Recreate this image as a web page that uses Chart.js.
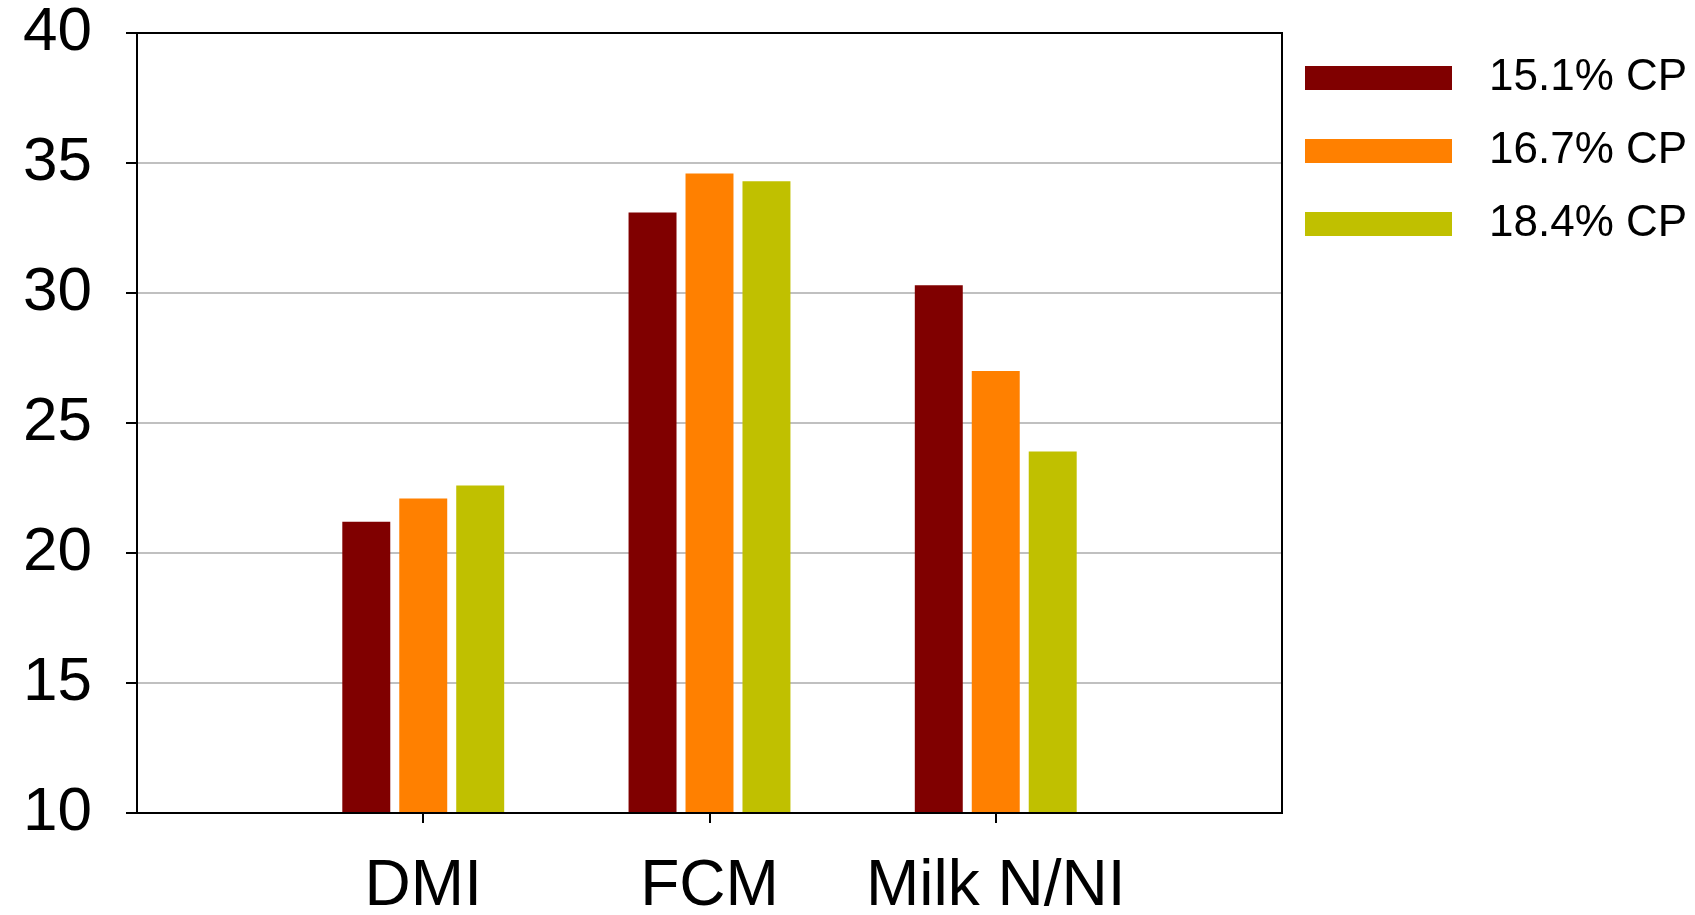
<!DOCTYPE html>
<html>
<head>
<meta charset="utf-8">
<script src="https://cdn.jsdelivr.net/npm/chart.js@4/dist/chart.umd.min.js"></script>
<style>
  html, body { margin: 0; padding: 0; background: #fff; }
  canvas { display: block; }
</style>
</head>
<body>
<canvas id="chart" width="1695" height="915"></canvas>
<script>
// Measures compared across dietary crude protein levels
const categories = ['DMI', 'FCM', 'Milk N/NI'];
const seriesNames = ['15.1% CP', '16.7% CP', '18.4% CP'];
const cp151 = [21.2, 33.1, 30.3];
const cp167 = [22.1, 34.6, 27.0];
const cp184 = [22.6, 34.3, 23.9];
const seriesColors = ['#800000', '#ff8000', '#c0c000'];
const yTicks = [10, 15, 20, 25, 30, 35, 40];

// Empty slots at each end give the half-gap on both sides of the groups
const labels = [''].concat(categories, ['']);
const pad = (arr) => [null].concat(arr, [null]);
const seriesValues = [cp151, cp167, cp184];

const FONT = '"Liberation Sans", Arial, sans-serif';

// Legend to the right of the plot, plus the frame around the plot area
const sideLegend = {
  id: 'sideLegend',
  afterDatasetsDraw(chart) {
    const { ctx, chartArea } = chart;
    ctx.save();
    ctx.strokeStyle = '#000';
    ctx.lineWidth = 2;
    ctx.strokeRect(chartArea.left, chartArea.top, chartArea.right - chartArea.left, chartArea.bottom - chartArea.top);
    ctx.restore();
  },
  afterDraw(chart) {
    const { ctx, chartArea } = chart;
    const boxX = chartArea.right + 23;
    const boxW = 147, boxH = 24, rowGap = 73;
    ctx.save();
    ctx.font = '44px ' + FONT;
    ctx.textBaseline = 'middle';
    ctx.textAlign = 'left';
    chart.data.datasets.forEach((ds, i) => {
      const top = chartArea.top + 33 + i * rowGap;
      ctx.fillStyle = ds.backgroundColor;
      ctx.fillRect(boxX, top, boxW, boxH);
      ctx.fillStyle = '#000';
      ctx.fillText(ds.label, boxX + 184, top + boxH / 2);
    });
    ctx.restore();
  }
};

new Chart(document.getElementById('chart'), {
  type: 'bar',
  data: {
    labels: labels,
    datasets: seriesNames.map((name, i) => ({
      label: name,
      data: pad(seriesValues[i]),
      backgroundColor: seriesColors[i],
      borderWidth: 0,
      categoryPercentage: 0.597,
      barPercentage: 0.842
    }))
  },
  options: {
    responsive: false,
    animation: false,
    layout: { padding: { left: 0, right: 413, top: 33, bottom: 0 } },
    plugins: {
      legend: { display: false },
      tooltip: { enabled: false }
    },
    scales: {
      x: {
        offset: false,
        grid: {
          offset: false,
          drawOnChartArea: false,
          drawTicks: true,
          tickLength: 10,
          lineWidth: 2,
          tickColor: (c) => (c.index === 0 || c.index === labels.length - 1) ? 'rgba(0,0,0,0)' : '#000'
        },
        border: { display: true, color: '#000', width: 2 },
        ticks: {
          color: '#000',
          padding: 32,
          maxRotation: 0,
          autoSkip: false,
          font: { family: FONT, size: 64, lineHeight: 1 }
        },
        afterFit: (s) => { s.height = 102; s.paddingLeft = 0; s.paddingRight = 0; }
      },
      y: {
        min: yTicks[0],
        max: yTicks[yTicks.length - 1],
        afterBuildTicks: (s) => { s.ticks = yTicks.map(v => ({ value: v })); },
        grid: {
          color: '#c0c0c0',
          lineWidth: 2,
          tickColor: '#000',
          tickLength: 11
        },
        border: { display: true, color: '#000', width: 2 },
        ticks: {
          color: '#000',
          padding: 34,
          font: { family: FONT, size: 62, lineHeight: 1 }
        },
        afterFit: (s) => { s.width = 137; s.paddingTop = 0; s.paddingBottom = 0; }
      }
    }
  },
  plugins: [sideLegend]
});
</script>
</body>
</html>
